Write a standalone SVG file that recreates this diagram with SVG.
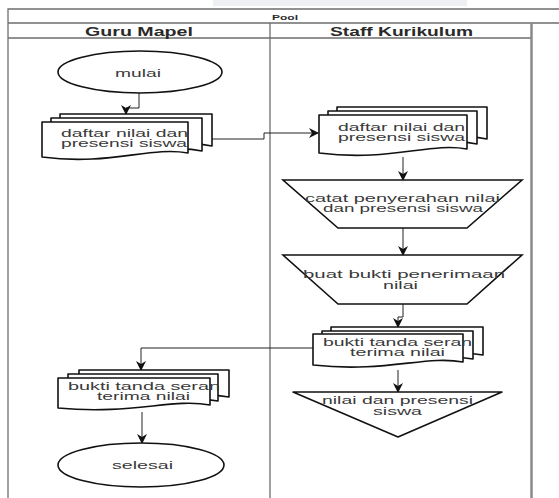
<svg xmlns="http://www.w3.org/2000/svg" width="559" height="498" viewBox="0 0 559 498">
<defs>
<marker id="arr" markerUnits="userSpaceOnUse" markerWidth="10" markerHeight="10" viewBox="0 0 10 10" refX="9" refY="5" orient="auto">
<path d="M0,0 L10,5 L0,10 L3,5 Z" fill="#111"/>
</marker>
<style>
.lane{stroke:#6e6e6e;stroke-width:1.3;fill:none}
.shape{fill:#fff;stroke:#111;stroke-width:1.6}
.doc{fill:#fff;stroke:#111;stroke-width:1.6;stroke-linejoin:round}
.conn{fill:none;stroke:#222;stroke-width:1}
.t{font-family:"Liberation Sans",Arial,sans-serif;font-size:10.5px;fill:#3a3a3a}
.h{font-family:"Liberation Sans",Arial,sans-serif;font-weight:bold;fill:#2a2a2a}
</style>
</defs>
<rect x="213" y="0" width="254" height="6" fill="#eef0f3"/>
<g id="pool">
<path class="lane" d="M8,498 V9 H559 M8,23 H559 M8,38 H531 M270,23 V498"/>
<path d="M531.5,23 V498" stroke="#8a8a8a" stroke-width="2.5" fill="none"/>
<text class="h" x="272" y="19.5" font-size="8" textLength="26" lengthAdjust="spacingAndGlyphs">Pool</text>
<text class="h" x="85" y="36" font-size="12" textLength="108" lengthAdjust="spacingAndGlyphs">Guru Mapel</text>
<text class="h" x="330" y="36" font-size="12" textLength="143" lengthAdjust="spacingAndGlyphs">Staff Kurikulum</text>
</g>
<g id="connectors">
<path class="conn" d="M139,93 V108 H126 V114" marker-end="url(#arr)"/>
<path class="conn" d="M212,139 H264 V133 H318" marker-end="url(#arr)"/>
<path class="conn" d="M403,157 V180" marker-end="url(#arr)"/>
<path class="conn" d="M403,228 V255" marker-end="url(#arr)"/>
<path class="conn" d="M403,304 V317 H398 V327" marker-end="url(#arr)"/>
<path class="conn" d="M313,348 H141 V370" marker-end="url(#arr)"/>
<path class="conn" d="M398,370 V392" marker-end="url(#arr)"/>
<path class="conn" d="M142,412 V443" stroke="#555" stroke-width="1.5" marker-end="url(#arr)"/>
</g>
<g id="mulai">
<ellipse class="shape" cx="140" cy="72" rx="82" ry="21"/>
<text class="t" x="115" y="76.5" font-size="11" textLength="46" lengthAdjust="spacingAndGlyphs">mulai</text>
</g>
<g id="doc1">
<path class="doc" d="M60,114 H212 V146 C174,138 136,156 60,150 Z"/>
<path class="doc" d="M51,118 H202 V151 C164,143 126,161 51,154 Z"/>
<path class="doc" d="M42,122 H188 V153 C150,146 110,166 42,157 Z"/>
<text class="t" x="61" y="136.5" textLength="127" lengthAdjust="spacingAndGlyphs">daftar nilai dan</text>
<text class="t" x="61" y="147" textLength="126" lengthAdjust="spacingAndGlyphs">presensi siswa</text>
</g>
<g id="doc2">
<path class="doc" d="M337,107 H487 V139 C450,131 412,149 337,143 Z"/>
<path class="doc" d="M328,111 H477 V144 C440,136 402,154 328,147 Z"/>
<path class="doc" d="M319,115 H467 V149 C430,142 390,162 319,153 Z"/>
<text class="t" x="338" y="130.5" textLength="127" lengthAdjust="spacingAndGlyphs">daftar nilai dan</text>
<text class="t" x="338" y="141" textLength="127" lengthAdjust="spacingAndGlyphs">presensi siswa</text>
</g>
<g id="catat">
<polygon class="shape" points="283,180 522,180 467,228 338,228"/>
<text class="t" x="305" y="201.5" textLength="195" lengthAdjust="spacingAndGlyphs">catat penyerahan nilai</text>
<text class="t" x="323" y="212" textLength="160" lengthAdjust="spacingAndGlyphs">dan presensi siswa</text>
</g>
<g id="buat">
<polygon class="shape" points="283,255 522,255 467,304 338,304"/>
<text class="t" x="303" y="278" textLength="202" lengthAdjust="spacingAndGlyphs">buat bukti penerimaan</text>
<text class="t" x="383" y="288.5" textLength="35" lengthAdjust="spacingAndGlyphs">nilai</text>
</g>
<g id="doc3">
<path class="doc" d="M331,327 H483 V355 C446,348 408,364 331,359 Z"/>
<path class="doc" d="M322,331 H473 V359 C436,352 398,368 322,363 Z"/>
<path class="doc" d="M313,334 H463 V362 C426,355 386,373 313,365 Z"/>
<text class="t" x="323" y="345.5" textLength="149" lengthAdjust="spacingAndGlyphs">bukti tanda seran</text>
<text class="t" x="350" y="356" textLength="95" lengthAdjust="spacingAndGlyphs">terima nilai</text>
</g>
<g id="offpage">
<polygon class="shape" stroke-linejoin="round" points="293,392 502,392 398,437"/>
<text class="t" x="322" y="404" textLength="151" lengthAdjust="spacingAndGlyphs">nilai dan presensi</text>
<text class="t" x="373" y="414.5" textLength="49" lengthAdjust="spacingAndGlyphs">siswa</text>
</g>
<g id="doc4">
<path class="doc" d="M79,370 H229 V397 C192,390 155,405 79,400 Z"/>
<path class="doc" d="M68,374 H218 V401 C181,394 144,409 68,404 Z"/>
<path class="doc" d="M58,378 H210 V405 C172,398 132,415 58,408 Z"/>
<text class="t" x="68" y="389.5" textLength="152" lengthAdjust="spacingAndGlyphs">bukti tanda seran</text>
<text class="t" x="97" y="400" textLength="93" lengthAdjust="spacingAndGlyphs">terima nilai</text>
</g>
<g id="selesai">
<ellipse class="shape" cx="141" cy="465" rx="83" ry="22"/>
<text class="t" x="112" y="468.5" font-size="11" textLength="61" lengthAdjust="spacingAndGlyphs">selesai</text>
</g>
</svg>
